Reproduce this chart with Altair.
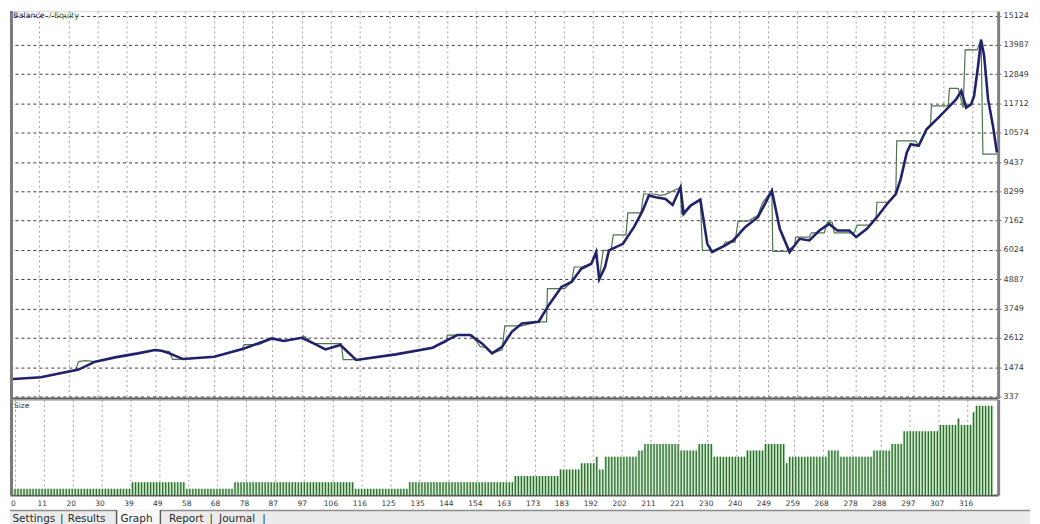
import altair as alt
import pandas as pd

# ---------------- data ----------------
# Balance (navy line): trade number and account value
bal_t = [0, 10.1, 22.5, 28, 34.5, 42, 47.6, 49.8, 52.4, 56.7,
         67.1, 76.9, 86, 89.9, 95.8, 99.7, 103.6, 108.5, 113.7, 126.7,
         138.8, 143.6, 146.9, 151.1, 155, 158.3, 161.6, 164.8, 168.1, 173.6,
         176.9, 181.1, 184.4, 187.6, 190.9, 192.5, 193.5, 195.4, 196.7, 201.3,
         204.9, 207.8, 209.8, 212.1, 215.3, 217.6, 220.2, 221.2, 223.5, 226.7,
         229, 230.6, 234.9, 237.5, 241.4, 245.6, 250.2, 252.8, 256, 259.3,
         262.5, 265.8, 269, 271.7, 275.6, 277.9, 281.4, 284.7, 288, 290.9,
         292.5, 294.5, 295.8, 298.4, 301, 304.9, 308.1, 310.7, 312.4, 314,
         315.6, 316.6, 317.9, 318.9, 319.9, 321.2, 322.8, 324.1]
bal_v = [1006, 1083, 1381, 1690, 1856, 2011, 2142, 2115, 2011, 1794,
         1883, 2204, 2591, 2490, 2618, 2398, 2166, 2336, 1756, 1972,
         2231, 2529, 2722, 2722, 2398, 2011, 2270, 2850, 3171, 3237,
         3882, 4590, 4783, 5297, 5490, 5943, 4887, 5363, 6008, 6264,
         6909, 7555, 8135, 8069, 8003, 7771, 8456, 7423, 7748, 7980,
         6264, 5943, 6202, 6395, 6909, 7296, 8328, 6844, 5943, 6457,
         6395, 6782, 7037, 6782, 6782, 6523, 6844, 7296, 7810, 8197,
         8777, 9809, 10130, 10068, 10710, 11162, 11548, 11869, 12194, 11548,
         11676, 12001, 13161, 14189, 13559, 11869, 10841, 9809]

# Equity (green line)
eq_t = [0, 10.1, 21.5, 22.5, 24.8, 28, 34.5, 42, 47.6, 52.4,
        53.4, 56.7, 67.1, 76.2, 76.9, 81.8, 86, 89.9, 95.8, 96.4,
        99.7, 103.6, 108.8, 109.4, 113.7, 126.7, 138.8, 143.3, 143.6, 151.8,
        154.4, 156.7, 158.3, 161.6, 162.5, 168.1, 173.6, 176.2, 176.5, 182.1,
        184.4, 185.3, 187.6, 190.9, 192.5, 193.5, 194.8, 197.4, 198.1, 202.3,
        202.9, 207.2, 208.1, 211.4, 213.7, 215.3, 220.2, 220.5, 223.5, 226.7,
        227.4, 231, 234.2, 234.9, 238.1, 239.1, 242.3, 245.6, 247.2, 250.2,
        250.5, 255, 257.7, 258, 262.5, 263.2, 267.4, 268.4, 270, 270.7,
        277.2, 278.2, 282.1, 284.4, 284.7, 288.6, 290.9, 291.2, 297.4, 298.4,
        301, 302.3, 302.6, 308.1, 308.5, 311.4, 313, 313.7, 317.6, 318.9,
        319.5, 324.1]
eq_v = [1006, 1083, 1342, 1690, 1729, 1690, 1856, 2011, 2142, 2077,
        1779, 1779, 1883, 2154, 2347, 2347, 2591, 2490, 2618, 2695,
        2398, 2386, 2386, 1767, 1767, 1972, 2231, 2463, 2722, 2722,
        2270, 2231, 2011, 2154, 3082, 3082, 3237, 3237, 4524, 4524,
        4783, 5363, 5363, 5490, 5943, 4887, 6008, 6008, 6612, 6612,
        7462, 7462, 8197, 8197, 8146, 8185, 8456, 7423, 7748, 8003,
        6008, 6008, 6175, 6329, 6329, 7141, 7141, 7373, 7876, 8328,
        5970, 5970, 6213, 6523, 6523, 6689, 6689, 7103, 7103, 6689,
        6689, 6987, 6987, 7257, 7876, 7876, 8185, 10261, 10261, 10068,
        10710, 10891, 11614, 11614, 12295, 12295, 11548, 13802, 13791, 14189,
        9743, 9743]

# Position size per trade, as runs of equal lot size (lot, number of trades)
size_levels = [0.1, 0.2, 0.1, 0.2, 0.1, 0.2, 0.3, 0.4, 0.5, 0.6,
               0.4, 0.6, 0.7, 0.8, 0.7, 0.8, 0.6, 0.7, 0.8, 0.5,
               0.6, 0.7, 0.6, 0.7, 0.8, 1.0, 1.1, 1.2, 1.1, 1.3, 1.4]
size_counts = [39, 18, 16, 40, 18, 35, 15, 7, 5, 1,
               2, 11, 2, 12, 6, 5, 11, 6, 7, 1,
               13, 4, 11, 6, 4, 12, 6, 1, 4, 1, 6]

x_labels = ["0", "11", "20", "30", "39", "49", "58", "68", "78", "87", "97",
            "106", "116", "125", "135", "144", "154", "163", "173", "183",
            "192", "202", "211", "221", "230", "240", "249", "259", "268",
            "278", "288", "297", "307", "316"]
y_labels = [337, 1474, 2612, 3749, 4887, 6024, 7162, 8299, 9437, 10574,
            11712, 12849, 13987, 15124]

tab_labels = ["Settings", "|", "Results", "Graph", "Report", "|", "Journal", "|"]

# ---------------- tables ----------------
bal_df = pd.DataFrame({"t": bal_t, "v": bal_v})
eq_df = pd.DataFrame({"t": eq_t, "v": eq_v})
lots = []
for lvl, cnt in zip(size_levels, size_counts):
    lots += [lvl] * cnt
size_df = pd.DataFrame({"t": list(range(len(lots))), "lot": lots})
one = pd.DataFrame({"a": [0]})

# ---------------- layout / style ----------------
W = 992
H_MAIN = 389
H_SIZE = 96
FONT = "DejaVu Sans"
NAVY = "#22226c"
GREEN = "#4d744d"

step = int(x_labels[-1]) / (len(x_labels) - 1)
x_ticks = [k * step for k in range(len(x_labels))]
label_expr = "[" + ",".join("'%s'" % s for s in x_labels) + "][round(datum.value / %.6f)]" % step

xs = alt.Scale(domain=[0, 324.5], nice=False, zero=False)
ys = alt.Scale(domain=[260, 15300], nice=False, zero=False)

x_main = alt.X("t:Q", scale=xs, axis=alt.Axis(
    values=x_ticks, labels=False, ticks=False, title=None,
    grid=True, gridColor="#a0a0a0", gridDash=[2, 3], gridWidth=1,
    domain=True, domainColor="#5c5c5c", domainWidth=3))
y_main = alt.Y("v:Q", scale=ys, axis=alt.Axis(
    orient="right", values=y_labels, format="d", title=None,
    grid=True, gridColor="#3a3a3a", gridDash=[3, 3], gridWidth=1,
    domainColor="#808080", domainWidth=3, tickColor="#808080", tickSize=3,
    labelFont=FONT, labelFontSize=8, labelColor="#3a3a3a", labelPadding=2))

eq_line = alt.Chart(eq_df).mark_line(color=GREEN, strokeWidth=1.2, clip=True).encode(x=x_main, y=y_main)
bal_line = alt.Chart(bal_df).mark_line(color=NAVY, strokeWidth=2.6, clip=True).encode(x=x_main, y=y_main)

t_bal = alt.Chart(one).mark_text(text="Balance", align="left", baseline="alphabetic",
                                 font=FONT, fontSize=8, color="#2b2b5e").encode(
    x=alt.value(3), y=alt.value(7.5))
t_eq = alt.Chart(one).mark_text(text="/ Equity", align="left", baseline="alphabetic",
                                font=FONT, fontSize=8, color="#3f6e3f").encode(
    x=alt.value(39), y=alt.value(7.5))
left_main = alt.Chart(one).mark_rule(color="#7a7a7a", strokeWidth=3).encode(
    x=alt.value(1.5), y=alt.value(0), y2=alt.value(H_MAIN))

main = alt.layer(eq_line, bal_line, t_bal, t_eq, left_main).properties(width=W, height=H_MAIN)

x_size = alt.X("t:Q", scale=xs, axis=alt.Axis(
    values=x_ticks, labelExpr=label_expr, title=None, ticks=False,
    grid=True, gridColor="#a0a0a0", gridDash=[2, 3], gridWidth=1,
    labelFlush=True, labelFont=FONT, labelFontSize=7.5, labelColor="#3a3a3a",
    labelPadding=4, labelOffset=-2, domainColor="#5c5c5c", domainWidth=2))
y_size = alt.Y("lot:Q", scale=alt.Scale(domain=[0, 1.5], nice=False), axis=alt.Axis(
    orient="right", labels=False, ticks=False, grid=False, title=None,
    domainColor="#808080", domainWidth=3))

bars_light = alt.Chart(size_df).mark_bar(size=3.05, color="#bfeabf", clip=True).encode(
    x=x_size, y=y_size)
bars_dark = alt.Chart(size_df).mark_bar(size=1.3, color="#366636", clip=True).encode(
    x=x_size, y=y_size)
size_lbl = alt.Chart(one).mark_text(text="Size", align="left", baseline="middle",
                                    font=FONT, fontSize=7.5, color="#333333").encode(
    x=alt.value(4), y=alt.value(7))
left_size = alt.Chart(one).mark_rule(color="#7a7a7a", strokeWidth=3).encode(
    x=alt.value(1.5), y=alt.value(0), y2=alt.value(H_SIZE))

# tab strip under the chart
strip = alt.Chart(one).mark_rect(color="#ebebeb").encode(
    x=alt.value(0), x2=alt.value(1024), y=alt.value(111), y2=alt.value(126))
strip_line = alt.Chart(one).mark_rule(color="#8c8c8c", strokeWidth=1.5).encode(
    x=alt.value(0), x2=alt.value(1024), y=alt.value(111.5))
tab_box = alt.Chart(one).mark_rect(color="#f7f7f7").encode(
    x=alt.value(107), x2=alt.value(151), y=alt.value(110), y2=alt.value(126))
tab_l = alt.Chart(one).mark_rule(color="#5a5a5a", strokeWidth=1.5).encode(
    x=alt.value(107), y=alt.value(111), y2=alt.value(126))
tab_r = alt.Chart(one).mark_rule(color="#5a5a5a", strokeWidth=1.5).encode(
    x=alt.value(151), y=alt.value(111), y2=alt.value(126))

tab_x = [24, 52, 77, 127, 177, 202, 228, 255]
tab_layers = []
for lab, px in zip(tab_labels, tab_x):
    tab_layers.append(
        alt.Chart(one).mark_text(text=lab, align="center", baseline="middle",
                                 font=FONT, fontSize=10.5, color="#2a2a2a").encode(
            x=alt.value(px), y=alt.value(120)))

size_panel = alt.layer(bars_light, bars_dark, size_lbl, left_size, strip, strip_line,
                       tab_box, tab_l, tab_r, *tab_layers).properties(width=W, height=H_SIZE)

chart = alt.vconcat(main, size_panel, spacing=1, bounds="flush").properties(
    padding=0).configure_view(strokeWidth=0).configure(background="white")

chart.save("out.html", embed_options={"renderer": "svg", "actions": False})
